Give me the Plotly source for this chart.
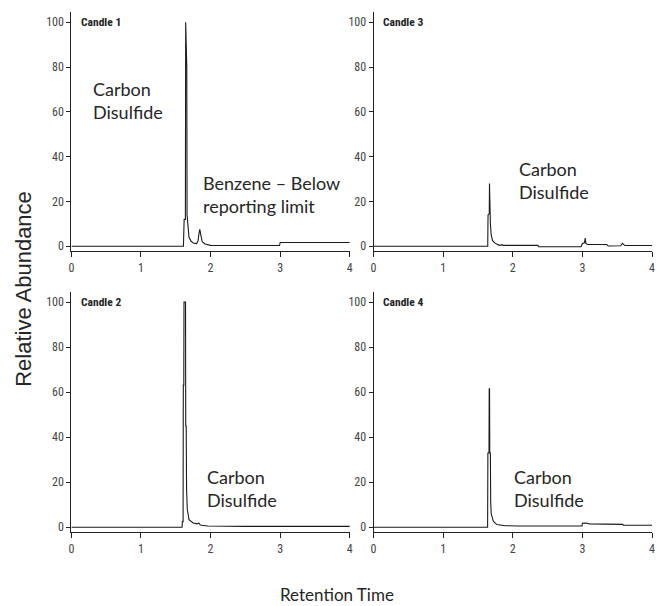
import plotly.graph_objects as go

# ---- data ----
candle1_time = [0, 1.61, 1.62, 1.638, 1.642, 1.648, 1.652, 1.658, 1.662, 1.668, 1.675, 1.69, 1.72, 1.76, 1.80, 1.82, 1.835, 1.845, 1.86, 1.88, 1.92, 2.0, 2.5, 2.99, 3.0, 3.3, 3.33, 3.36, 3.4, 4.0]
candle1_abund = [0, 0, 12, 12, 100, 91, 80, 80, 14, 11, 8, 4, 2.2, 1.3, 1.2, 2.5, 6, 7.5, 5, 2, 1, 0.4, 0.3, 0.3, 1.7, 1.7, 1.4, 1.7, 1.7, 1.7]

candle3_time = [0, 1.64, 1.644, 1.662, 1.665, 1.668, 1.672, 1.678, 1.69, 1.71, 1.74, 1.79, 1.83, 1.845, 1.86, 2.0, 2.36, 2.37, 2.98, 3.0, 3.03, 3.04, 3.05, 3.07, 3.35, 3.37, 3.55, 3.575, 3.61, 4.0]
candle3_abund = [0, 0, 14, 14.5, 28, 16, 15.5, 10, 5, 2.5, 1.5, 0.6, 0.4, 0.8, 0.4, 0.4, 0.4, -0.2, -0.2, 1.2, 1.5, 3.6, 1.2, 0.8, 0.8, 0.1, 0.2, 1.3, 0.3, 0.3]

candle2_time = [0, 1.59, 1.595, 1.605, 1.608, 1.615, 1.618, 1.64, 1.643, 1.65, 1.655, 1.665, 1.69, 1.75, 1.81, 1.83, 1.85, 1.87, 1.96, 2.5, 4.0]
candle2_abund = [0, 0, 2.5, 2.5, 63, 63, 100, 100, 45, 45, 17, 8, 3.4, 1.9, 1.5, 1.9, 1.1, 0.9, 0.6, 0.4, 0.4]

candle4_time = [0, 1.638, 1.642, 1.658, 1.661, 1.666, 1.669, 1.678, 1.682, 1.69, 1.72, 1.77, 1.89, 2.08, 2.995, 3.0, 3.05, 3.1, 3.58, 3.59, 4.0]
candle4_abund = [0, 0, 33, 33, 61.5, 61.5, 33, 33, 11.5, 6, 2.7, 1.2, 0.7, 0.6, 0.6, 1.8, 1.9, 1.5, 1.3, 0.9, 0.9]

panel_names = ["Candle 1", "Candle 3", "Candle 2", "Candle 4"]
x_ticks = [0, 1, 2, 3, 4]
y_ticks = [0, 20, 40, 60, 80, 100]

series = [
    (candle1_time, candle1_abund),
    (candle3_time, candle3_abund),
    (candle2_time, candle2_abund),
    (candle4_time, candle4_abund),
]

W, H = 657, 606
x_doms = [[69 / W, 350 / W], [374 / W, 655 / W]]
y_doms = [[1 - 252 / H, 1 - 12 / H], [1 - 534 / H, 1 - 292.7 / H]]

NARROW = "Liberation Sans Narrow, Arial Narrow, Roboto Condensed, Liberation Sans, sans-serif"
TICKFONT = dict(family=NARROW, size=12, color="#444444")
LABELFONT = dict(family="Lato, Carlito, Calibri, Open Sans, sans-serif", size=18, color="#262626")

fig = go.Figure()
layout = dict(
    width=W, height=H,
    margin=dict(l=0, r=0, t=0, b=0),
    paper_bgcolor="white", plot_bgcolor="white",
    showlegend=False,
)

annotations = []
for i, ((xs, ys), name) in enumerate(zip(series, panel_names)):
    row, col = divmod(i, 2)
    n = "" if i == 0 else str(i + 1)
    fig.add_trace(go.Scatter(x=xs, y=ys, mode="lines",
                             line=dict(color="#1a1a1a", width=1.1),
                             xaxis="x" + n, yaxis="y" + n, hoverinfo="skip"))
    layout["xaxis" + n] = dict(
        domain=x_doms[col], anchor="y" + n, range=[0, 4],
        tickvals=x_ticks, ticks="outside", ticklen=5, tickwidth=1, tickcolor="#222",
        showline=True, linecolor="#222", linewidth=1, showgrid=False, zeroline=False,
        tickfont=TICKFONT, fixedrange=True,
    )
    layout["yaxis" + n] = dict(
        domain=y_doms[row], anchor="x" + n, range=[-2.2, 104.6],
        tickvals=y_ticks, ticks="outside", ticklen=4, tickwidth=1, tickcolor="#222",
        showline=True, linecolor="#222", linewidth=1, showgrid=False, zeroline=False,
        tickfont=TICKFONT, fixedrange=True,
    )
    annotations.append(dict(
        text="<b>" + name + "</b>", xref="x" + n + " domain", yref="y" + n,
        x=0.028, y=100, xanchor="left", yanchor="middle", showarrow=False,
        font=dict(family=NARROW, size=11.5, color="#222"),
    ))

labels = [
    ("", 0.285, 65, "Carbon<br>Disulfide"),
    ("", 1.865, 22.9, "Benzene \u2013 Below<br>reporting limit"),
    ("2", 2.064, 29.3, "Carbon<br>Disulfide"),
    ("3", 1.92, 17.4, "Carbon<br>Disulfide"),
    ("4", 1.993, 17.4, "Carbon<br>Disulfide"),
]
for n, x, y, t in labels:
    annotations.append(dict(
        text=t, xref="x" + n, yref="y" + n, x=x, y=y,
        xanchor="left", yanchor="middle", align="left", showarrow=False,
        font=LABELFONT,
    ))

annotations.append(dict(
    text="Relative Abundance", xref="paper", yref="paper",
    x=20 / W, y=1 - 290 / H, xanchor="center", yanchor="middle",
    textangle=-90, showarrow=False,
    font=dict(family="Liberation Sans, Arial, sans-serif", size=22, color="#262626"),
))
annotations.append(dict(
    text="Retention Time", xref="paper", yref="paper",
    x=337 / W, y=1 - 596 / H, xanchor="center", yanchor="middle",
    showarrow=False, font=dict(family="Lato, Carlito, Calibri, Open Sans, sans-serif", size=17, color="#262626"),
))
layout["annotations"] = annotations
fig.update_layout(**layout)
fig.write_html("out.html", config={"displayModeBar": False},
               post_script="document.body.style.margin='0';document.body.style.overflow='hidden';")
